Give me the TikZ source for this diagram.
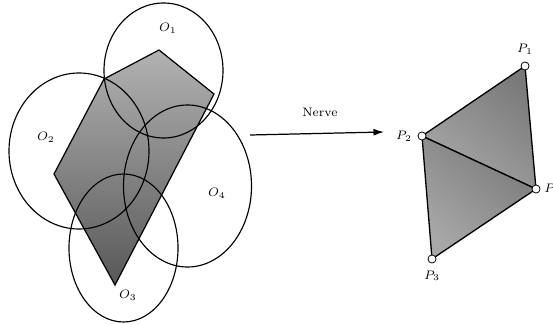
\documentclass[tikz,border=0pt]{standalone}
\usepackage{amsmath,amssymb}
\usepackage{tikz}
\usetikzlibrary{positioning,calc}
\usetikzlibrary{arrows.meta}
\definecolor{CoverGray}{RGB}{178,178,178}
\definecolor{DeepGray}{RGB}{88,88,88}
\definecolor{FaceLight}{RGB}{168,168,168}
\definecolor{FaceDark}{RGB}{122,122,122}
\tikzset{
  cover/.style={draw=black,line width=0.65pt},
  region/.style={draw=black,line width=0.7pt,top color=CoverGray,bottom color=DeepGray},
  face/.style={draw=black,line width=0.75pt,top color=FaceDark,bottom color=FaceLight,shading angle=-40},
}
\tikzset{pt/.style={circle,draw=black,fill=white,inner sep=0pt,minimum size=4.6pt,line width=0.45pt}, lab/.style={inner sep=1pt,font=\scriptsize}, map/.style={line width=0.7pt,-{Latex[length=6pt,width=4pt]}}}

\begin{document}
\begin{tikzpicture}[x=0.02cm,y=-0.02cm]
\useasboundingbox (0,0) rectangle (553,324);
% the space and its cover
\coordinate (ka) at (159,50);
\coordinate (kb) at (214,94);
\coordinate (kc) at (115,285);
\coordinate (kd) at (54,174);
\coordinate (ke) at (104,79);
\draw[region] (ka)--(kb)--(kc)--(kd)--(ke)--cycle;
\coordinate (o1) at (163.5,70.5);
\coordinate (o2) at (79,151);
\coordinate (o3) at (123.5,248);
\coordinate (o4) at (187.5,186);
\draw[cover] (o1) ellipse (59.5 and 67.5);
\draw[cover] (o2) ellipse (70 and 78);
\draw[cover] (o3) ellipse (54.5 and 74);
\draw[cover] (o4) ellipse (64 and 81);
\node[lab] (l1) at (168,28) {$O_1$};
\node[lab] (l2) at (46,137) {$O_2$};
\node[lab] (l3) at (128,295) {$O_3$};
\node[lab] (l4) at (217,193) {$O_4$};
% the nerve map
\coordinate (src) at (250,135);
\coordinate (dst) at (384,132);
\draw[map] (src)--(dst);
\node[lab] (nerve) at (320,112) {Nerve};
% the nerve complex
\coordinate (v1) at (525,66);
\coordinate (v2) at (422,136);
\coordinate (v3) at (432,259);
\coordinate (v4) at (536,189);
\draw[face] (v2)--(v1)--(v4)--cycle;
\draw[face] (v2)--(v4)--(v3)--cycle;
\node[pt] (p1) at (v1) {};
\node[pt] (p2) at (v2) {};
\node[pt] (p3) at (v3) {};
\node[pt] (p4) at (v4) {};
\node[lab,above=3pt of p1] {$P_1$};
\node[lab,left=2pt of p2] {$P_2$};
\node[lab,below=3pt of p3] {$P_3$};
\node[lab,right=1pt of p4] {$P_4$};
\end{tikzpicture}
\end{document}
